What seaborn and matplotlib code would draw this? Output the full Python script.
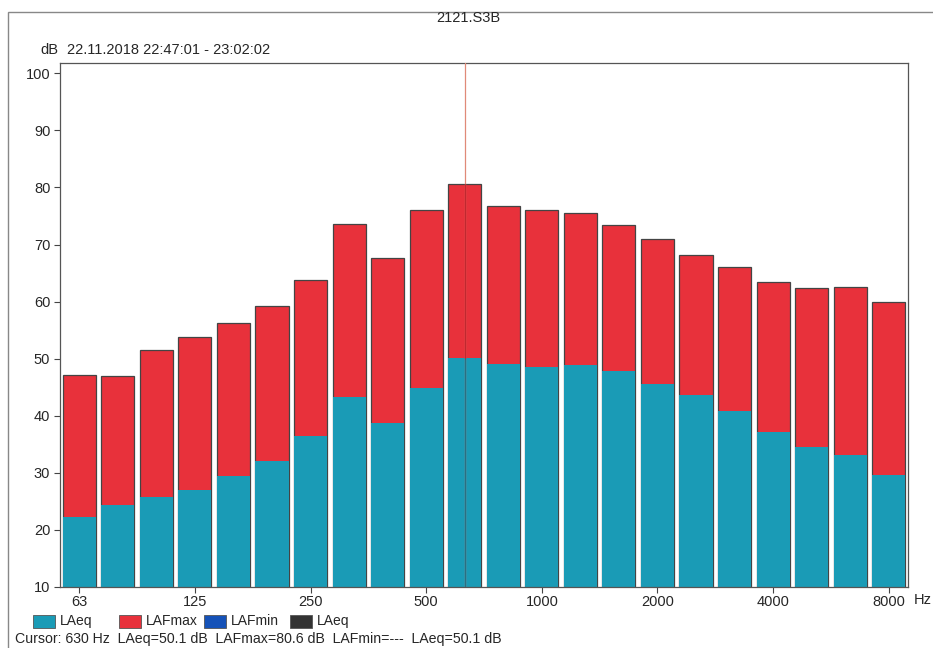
import matplotlib
matplotlib.use("Agg")
import matplotlib.pyplot as plt
import seaborn as sns
import pandas as pd
from matplotlib.patches import Rectangle

bands = ["63", "80", "100", "125", "160", "200", "250", "315", "400", "500", "630",
         "800", "1000", "1250", "1600", "2000", "2500", "3150", "4000", "5000", "6300", "8000"]
lafmax = [47.2, 46.9, 51.5, 53.8, 56.2, 59.3, 63.7, 73.6, 67.7, 76.0, 80.6,
          76.7, 76.1, 75.5, 73.5, 71.0, 68.2, 66.1, 63.5, 62.3, 62.6, 59.9]
laeq = [22.2, 24.3, 25.8, 27.0, 29.4, 32.1, 36.5, 43.2, 38.8, 44.9, 50.1,
        49.1, 48.5, 48.9, 47.9, 45.6, 43.6, 40.9, 37.1, 34.5, 33.2, 29.7]
shown_ticks = ["63", "125", "250", "500", "1000", "2000", "4000", "8000"]
legend_labels = ["LAeq", "LAFmax", "LAFmin", "LAeq"]
cursor_band = "630"

C_LAEQ = "#1a9bb6"
C_MAX = "#e8313b"
C_MIN = "#1552b8"
C_DARK = "#333333"

sns.set_style("white")
plt.rcParams["font.family"] = ["Liberation Sans Narrow", "Liberation Sans", "DejaVu Sans"]

df = pd.DataFrame({"band": bands, "LAFmax": lafmax, "LAeq": laeq})

W, H = 933, 648
fig = plt.figure(figsize=(W / 100, H / 100), dpi=100)
ax = fig.add_axes([60 / W, 1 - 587 / H, 848 / W, (587 - 63) / H])

sns.barplot(data=df, x="band", y="LAFmax", order=bands, color=C_MAX, saturation=1,
            width=0.86, edgecolor="#444444", linewidth=0.9, ax=ax)
sns.barplot(data=df, x="band", y="LAeq", order=bands, color=C_LAEQ, saturation=1,
            width=0.86, edgecolor="#444444", linewidth=0.0, ax=ax)

ax.set_ylim(10, 101.8)
ax.set_xlim(-0.5, len(bands) - 0.5)
ax.set_yticks(range(10, 101, 10))
ax.tick_params(axis="y", length=4, width=0.8, color="#444444", labelsize=10.5, pad=3, left=True)
ax.set_xticks([bands.index(b) for b in shown_ticks])
ax.set_xticklabels(shown_ticks)
ax.tick_params(axis="x", length=4, width=0.8, color="#444444", labelsize=10.5, pad=2, bottom=True)
ax.set_xlabel("")
ax.set_ylabel("")
for s in ax.spines.values():
    s.set_color("#555555")
    s.set_linewidth(0.9)

# cursor line
ci = bands.index(cursor_band)
ax.axvline(ci, color="#e08a78", lw=0.9, zorder=5)
ax.plot([ci, ci], [10, laeq[ci]], color="#2c6f80", lw=0.9, zorder=6)
ax.plot([ci, ci], [laeq[ci], lafmax[ci]], color="#c02830", lw=0.9, zorder=6)

# frame
fig.patches.append(Rectangle((8 / W, -0.1), 1.1, 1 - 12 / H + 0.1, transform=fig.transFigure,
                             fill=False, edgecolor="#888888", lw=1.0))

fig.text(468 / W, 1 - 18 / H, "2121.S3B", ha="center", va="center", fontsize=10.5)
fig.text(40 / W, 1 - 50 / H, "dB", ha="left", va="center", fontsize=10.5)
fig.text(67 / W, 1 - 50 / H, "22.11.2018 22:47:01 - 23:02:02", ha="left", va="center", fontsize=10.5)
fig.text(914 / W, 1 - 600 / H, "Hz", ha="left", va="center", fontsize=10.5)

# legend
leg_colors = [C_LAEQ, C_MAX, C_MIN, C_DARK]
leg_x = [33, 119, 204, 290]
for x, c, lab in zip(leg_x, leg_colors, legend_labels):
    fig.patches.append(Rectangle((x / W, 1 - 628 / H), 22 / W, 13 / H, transform=fig.transFigure,
                                 facecolor=c, edgecolor="#555555", lw=0.6))
    fig.text((x + 27) / W, 1 - 621 / H, lab, ha="left", va="center", fontsize=10)

cursor_txt = (f"Cursor: {cursor_band} Hz  LAeq={laeq[ci]:.1f} dB  LAFmax={lafmax[ci]:.1f} dB  "
              f"LAFmin=---  LAeq={laeq[ci]:.1f} dB")
fig.text(15 / W, 1 - 639 / H, cursor_txt, ha="left", va="center", fontsize=10.2)

fig.savefig("out.png", dpi=100)
